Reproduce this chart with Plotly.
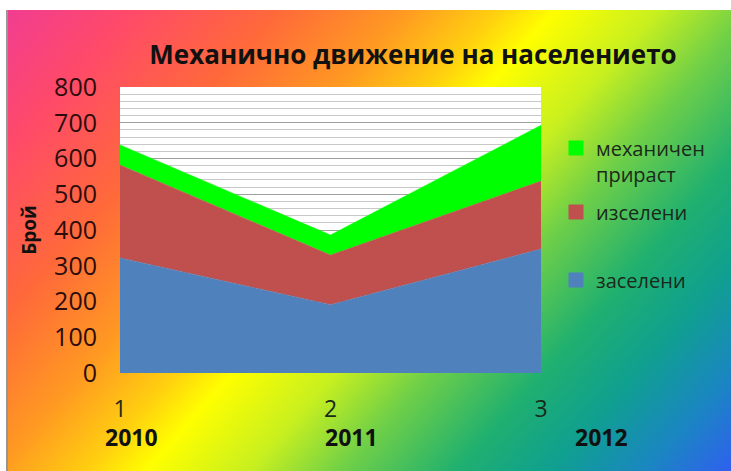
import base64
import struct
import zlib

import numpy as np
import plotly.graph_objects as go

# ---- data ----
categories = [1, 2, 3]
years = ["2010", "2011", "2012"]
series_names = ["заселени", "изселени", "механичен<br>прираст"]
zaseleni = [322, 191, 347]
izseleni = [260, 139, 190]
mehanichen = [56, 56, 156]
series_values = [zaseleni, izseleni, mehanichen]
series_colors = ["#4f81bd", "#c0504d", "#00ff00"]

W, H = 731, 471
ML, MR, MT, MB = 120, 190, 87, 98
PW, PH = W - ML - MR, H - MT - MB


def gradient_png(w, h):
    # diagonal rainbow backdrop like the original slide
    stops = [
        (0.00, (240, 60, 150)),
        (0.12, (255, 74, 106)),
        (0.25, (255, 106, 58)),
        (0.36, (255, 154, 34)),
        (0.44, (255, 208, 16)),
        (0.49, (255, 255, 0)),
        (0.58, (200, 240, 32)),
        (0.66, (112, 208, 72)),
        (0.76, (32, 176, 112)),
        (0.84, (16, 160, 144)),
        (0.92, (26, 136, 192)),
        (1.00, (48, 96, 240)),
    ]
    xs, ys = np.meshgrid(np.arange(w), np.arange(h))
    t = np.clip((xs + 0.89 * ys) / (w + 0.89 * h), 0, 1)
    pos = np.array([s[0] for s in stops])
    img = np.zeros((h, w, 3), dtype=np.uint8)
    for c in range(3):
        img[..., c] = np.interp(t, pos, [s[1][c] for s in stops]).astype(np.uint8)
    img[:10, :] = 255
    img[:, :6] = 255
    img[10:, 6:8] = (150, 150, 150)
    raw = b"".join(b"\x00" + img[r].tobytes() for r in range(h))

    def chunk(tag, data):
        return struct.pack(">I", len(data)) + tag + data + struct.pack(">I", zlib.crc32(tag + data) & 0xFFFFFFFF)

    png = b"\x89PNG\r\n\x1a\n" + chunk(b"IHDR", struct.pack(">IIBBBBB", w, h, 8, 2, 0, 0, 0))
    png += chunk(b"IDAT", zlib.compress(raw, 9)) + chunk(b"IEND", b"")
    return "data:image/png;base64," + base64.b64encode(png).decode()


FONT = "Open Sans"
fig = go.Figure()

for name, vals, col in zip(series_names, series_values, series_colors):
    fig.add_trace(go.Scatter(
        x=categories, y=vals, name=name, stackgroup="one", mode="lines",
        line=dict(color=col, width=0.5), fillcolor=col, showlegend=False,
    ))

# legend-only square markers (Excel style), one legend box per entry
legend_ids = ["legend3", "legend2", "legend"]
for name, col, lg in zip(series_names, series_colors, legend_ids):
    fig.add_trace(go.Scatter(
        x=[None], y=[None], mode="markers", name=name, legend=lg,
        marker=dict(symbol="square", size=15, color=col),
    ))

# year labels under the category numbers
year_shift = [11, 21, 60]
for cat, yr, sh in zip(categories, years, year_shift):
    fig.add_annotation(
        x=cat, xref="x", y=-0.224, yref="paper", yanchor="middle", text=f"<b>{yr}</b>",
        showarrow=False, xshift=sh, font=dict(family=FONT, size=23, color="#111"),
    )

fig.add_layout_image(dict(
    source=gradient_png(W, H), xref="paper", yref="paper",
    x=-ML / PW, y=1 + MT / PH, sizex=W / PW, sizey=H / PH,
    xanchor="left", yanchor="top", sizing="stretch", layer="below",
))
# white plot area over the backdrop
fig.add_shape(type="rect", xref="paper", yref="paper", x0=0, x1=1, y0=0, y1=1,
              fillcolor="white", line_width=0, layer="below")


def leg(y_px):
    return dict(x=(556 - ML) / PW, y=1 - (y_px - MT) / PH, xanchor="left", yanchor="middle",
                bgcolor="rgba(0,0,0,0)", font=dict(family=FONT, size=20, color="#1a2a1a"),
                itemwidth=30, valign="top", borderwidth=0)


fig.update_layout(
    width=W, height=H,
    margin=dict(l=ML, r=MR, t=MT, b=MB),
    paper_bgcolor="white", plot_bgcolor="white",
    title=dict(text="<b>Механично движение на населението</b>", x=413 / W, xanchor="center",
               y=1 - 55 / H, yanchor="middle", font=dict(family=FONT, size=26, color="#111")),
    font=dict(family=FONT, color="#111"),
    xaxis=dict(range=[1, 3], tickvals=categories, ticktext=[str(c) for c in categories],
               showgrid=False, zeroline=False, ticklabelstandoff=20,
               tickfont=dict(size=23, color="#1a2a1a")),
    yaxis=dict(range=[0, 800], dtick=100, showgrid=True, gridcolor="#a0a0a0", gridwidth=1,
               minor=dict(dtick=20, showgrid=True, gridcolor="#c8c8c8", gridwidth=1),
               zeroline=False, ticklabelstandoff=22, tickfont=dict(size=25, color="#2b0d0d"),
               title=dict(text="<b>Брой</b>", font=dict(size=19, color="#111"), standoff=12)),
    legend=leg(161),
    legend2=leg(212),
    legend3=leg(280),
    showlegend=True,
)

fig.write_html("out.html", default_width=f"{W}px", default_height=f"{H}px",
               config={"displayModeBar": False},
               post_script="document.body.style.margin='0';")
